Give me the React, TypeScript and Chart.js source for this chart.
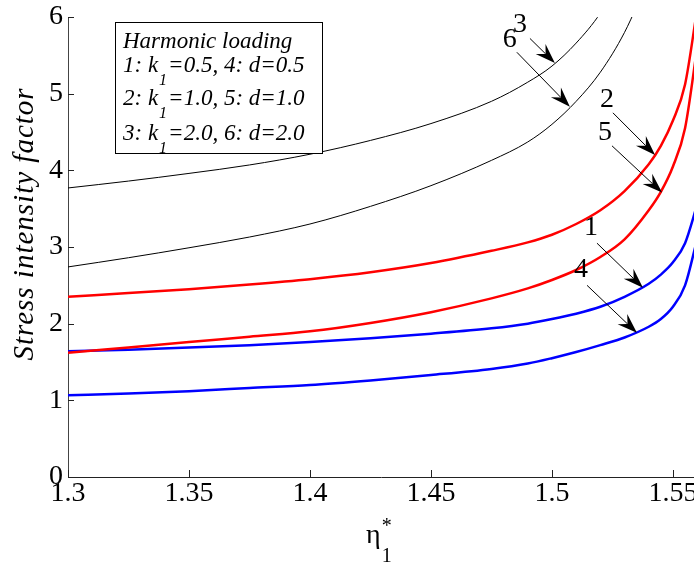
import React, { useEffect, useRef } from 'react';
import { Chart, registerables } from 'chart.js';

Chart.register(...registerables);

// ---- data ----
const etaValues = [1.30, 1.325, 1.35, 1.375, 1.40, 1.425, 1.45, 1.475, 1.49, 1.50, 1.51, 1.52, 1.53, 1.54, 1.545, 1.55, 1.555, 1.56];

// 1: k1 = 0.5 (blue)
const sif1 = [1.64, 1.66, 1.69, 1.72, 1.76, 1.81, 1.87, 1.94, 2.00, 2.06, 2.13, 2.22, 2.35, 2.52, 2.64, 2.80, 3.05, 3.55];
// 2: k1 = 1.0 (red)
const sif2 = [2.35, 2.40, 2.45, 2.51, 2.58, 2.67, 2.79, 2.95, 3.06, 3.16, 3.30, 3.48, 3.73, 4.08, 4.32, 4.65, 5.12, 6.1];
// 3: k1 = 2.0 (black)
const sif3 = [3.77, 3.86, 3.96, 4.07, 4.21, 4.39, 4.61, 4.90, 5.15, 5.36, 5.66, 6.05, 6.6, null, null, null, null, null];
// 4: d = 0.5 (blue)
const sif4 = [1.065, 1.09, 1.12, 1.16, 1.20, 1.26, 1.33, 1.41, 1.48, 1.55, 1.63, 1.72, 1.82, 1.96, 2.06, 2.22, 2.50, 3.1];
// 5: d = 1.0 (red)
const sif5 = [1.62, 1.69, 1.76, 1.83, 1.90, 2.01, 2.15, 2.33, 2.46, 2.57, 2.70, 2.87, 3.10, 3.48, 3.72, 4.05, 4.55, 5.6];
// 6: d = 2.0 (black)
const sif6 = [2.74, 2.86, 2.99, 3.13, 3.30, 3.53, 3.80, 4.13, 4.37, 4.60, 4.90, 5.28, 5.80, 6.5, null, null, null, null];

const xMin = 1.3;
const xMax = 1.5587;
const xStep = 0.05;
const yMin = 0;
const yMax = 6;
const yStep = 1;

// arrow annotations (data coordinates)
const arrowLabels = ['3', '6', '2', '5', '1', '4'];
const arrowLabelEta = [1.4868, 1.4826, 1.5227, 1.5219, 1.5161, 1.5120];
const arrowLabelSif = [5.90, 5.71, 4.92, 4.49, 3.25, 2.70];
const arrowFromEta = [1.4909, 1.4855, 1.5252, 1.5248, 1.5186, 1.5145];
const arrowFromSif = [5.72, 5.54, 4.75, 4.32, 3.05, 2.50];
const arrowToEta = [1.5012, 1.5074, 1.5426, 1.5455, 1.5376, 1.5351];
const arrowToSif = [5.40, 4.83, 4.20, 3.71, 2.47, 1.88];

// legend text box lines: [main, subscript, rest]
const legendTitle = 'Harmonic loading';
const legendLines: [string, string, string][] = [
  ['1: k', '1', '=0.5, 4: d=0.5'],
  ['2: k', '1', '=1.0, 5: d=1.0'],
  ['3: k', '1', '=2.0, 6: d=2.0'],
];

const yTitle = 'Stress intensity factor';
const xTitleMain = 'η';
const xTitleSub = '1';
const xTitleSup = '*';

const SERIF = '"Liberation Serif", serif';

function series(values: (number | null)[]) {
  const out: { x: number; y: number }[] = [];
  etaValues.forEach((x, i) => {
    const v = values[i];
    if (v !== null && v !== undefined) out.push({ x, y: v });
  });
  return out;
}

function drawArrow(ctx: CanvasRenderingContext2D, x0: number, y0: number, x1: number, y1: number) {
  const ang = Math.atan2(y1 - y0, x1 - x0);
  const c = Math.cos(ang);
  const s = Math.sin(ang);
  const L = 20, W = 7, N = 13;
  ctx.beginPath();
  ctx.moveTo(x0, y0);
  ctx.lineTo(x1 - N * c, y1 - N * s);
  ctx.stroke();
  ctx.beginPath();
  ctx.moveTo(x1, y1);
  ctx.lineTo(x1 - L * c - W * s, y1 - L * s + W * c);
  ctx.lineTo(x1 - N * c, y1 - N * s);
  ctx.lineTo(x1 - L * c + W * s, y1 - L * s - W * c);
  ctx.closePath();
  ctx.fill();
}

const decorations = {
  id: 'decorations',
  afterDatasetsDraw(chart: any) {
    const ctx: CanvasRenderingContext2D = chart.ctx;
    const xs = chart.scales.x;
    const ys = chart.scales.y;
    const area = chart.chartArea;
    ctx.save();

    // inward tick marks
    ctx.strokeStyle = '#222';
    ctx.lineWidth = 1;
    xs.ticks.forEach((t: any) => {
      const px = Math.round(xs.getPixelForValue(t.value)) + 0.5;
      ctx.beginPath();
      ctx.moveTo(px, area.bottom);
      ctx.lineTo(px, area.bottom - 7);
      ctx.stroke();
    });
    ys.ticks.forEach((t: any) => {
      const py = Math.round(ys.getPixelForValue(t.value)) + 0.5;
      ctx.beginPath();
      ctx.moveTo(area.left, py);
      ctx.lineTo(area.left + 6, py);
      ctx.stroke();
    });

    // arrows and labels
    ctx.strokeStyle = '#000';
    ctx.fillStyle = '#000';
    ctx.lineWidth = 1;
    arrowLabels.forEach((lab, i) => {
      const x0 = xs.getPixelForValue(arrowFromEta[i]);
      const y0 = ys.getPixelForValue(arrowFromSif[i]);
      const x1 = xs.getPixelForValue(arrowToEta[i]);
      const y1 = ys.getPixelForValue(arrowToSif[i]);
      drawArrow(ctx, x0, y0, x1, y1);
      ctx.font = `28px ${SERIF}`;
      ctx.textAlign = 'center';
      ctx.textBaseline = 'middle';
      ctx.fillText(lab, xs.getPixelForValue(arrowLabelEta[i]), ys.getPixelForValue(arrowLabelSif[i]));
    });

    // legend text box
    const bx = area.left + 47;
    const by = area.top + 5;
    const bw = 207;
    const bh = 131;
    ctx.fillStyle = '#fff';
    ctx.fillRect(bx, by, bw, bh);
    ctx.strokeStyle = '#000';
    ctx.lineWidth = 1;
    ctx.strokeRect(Math.round(bx) + 0.5, Math.round(by) + 0.5, bw, bh);
    ctx.fillStyle = '#000';
    ctx.textAlign = 'left';
    ctx.textBaseline = 'alphabetic';
    const tx = bx + 8;
    ctx.font = `italic 23px ${SERIF}`;
    ctx.fillText(legendTitle, tx, by + 26);
    const baselines = [50, 83, 118];
    legendLines.forEach((ln, i) => {
      const yb = by + baselines[i];
      ctx.font = `italic 23px ${SERIF}`;
      ctx.fillText(ln[0], tx, yb);
      let x = tx + ctx.measureText(ln[0]).width + 1;
      ctx.font = `italic 16px ${SERIF}`;
      ctx.fillText(ln[1], x, yb + 13);
      x += ctx.measureText(ln[1]).width + 1;
      ctx.font = `italic 23px ${SERIF}`;
      ctx.fillText(ln[2], x, yb);
    });

    ctx.restore();
  },
  afterDraw(chart: any) {
    const ctx: CanvasRenderingContext2D = chart.ctx;
    const area = chart.chartArea;
    ctx.save();
    ctx.fillStyle = '#000';
    // y title
    ctx.translate(33, area.top + 207);
    ctx.rotate(-Math.PI / 2);
    ctx.font = `italic 29px ${SERIF}`;
    (ctx as any).letterSpacing = '1px';
    ctx.textAlign = 'center';
    ctx.textBaseline = 'alphabetic';
    ctx.fillText(yTitle, 0, 0);
    ctx.restore();

    // x title  η_1^*
    ctx.save();
    ctx.fillStyle = '#000';
    ctx.textAlign = 'left';
    ctx.textBaseline = 'alphabetic';
    const x0 = area.left + 298;
    const yb = area.bottom + 66;
    ctx.font = `28px ${SERIF}`;
    ctx.fillText(xTitleMain, x0, yb);
    const w = ctx.measureText(xTitleMain).width;
    ctx.font = `20px ${SERIF}`;
    ctx.fillText(xTitleSub, x0 + w + 1, yb + 19);
    ctx.fillText(xTitleSup, x0 + w + 1, yb - 11);
    ctx.restore();
  },
};

export default function App() {
  const ref = useRef<HTMLCanvasElement>(null);

  useEffect(() => {
    const canvas = ref.current;
    if (!canvas) return;
    const fmtX = (v: any) => Number(v).toFixed(2).replace(/0$/, '');
    const chart = new Chart(canvas, {
      type: 'line',
      data: {
        datasets: [
          { label: '3', data: series(sif3), borderColor: '#000', borderWidth: 1 },
          { label: '6', data: series(sif6), borderColor: '#000', borderWidth: 1 },
          { label: '2', data: series(sif2), borderColor: '#ff0000', borderWidth: 2.5 },
          { label: '5', data: series(sif5), borderColor: '#ff0000', borderWidth: 2.5 },
          { label: '1', data: series(sif1), borderColor: '#0000ff', borderWidth: 2.5 },
          { label: '4', data: series(sif4), borderColor: '#0000ff', borderWidth: 2.5 },
        ].map((d) => ({ ...d, pointRadius: 0, fill: false, cubicInterpolationMode: 'monotone' as const })),
      },
      options: {
        responsive: false,
        animation: false,
        layout: { padding: { top: 17, left: 0, right: 0, bottom: 0 } },
        plugins: { legend: { display: false }, tooltip: { enabled: false } },
        scales: {
          x: {
            type: 'linear',
            min: xMin,
            max: xMax,
            grid: { display: false, drawTicks: false },
            border: { display: true, color: '#222', width: 1 },
            ticks: {
              stepSize: xStep,
              includeBounds: false,
              autoSkip: false,
              maxRotation: 0,
              padding: 0,
              color: '#000',
              font: { family: SERIF, size: 28 },
              callback: fmtX,
            },
            afterFit(s: any) {
              s.height = 86;
              s.paddingLeft = 0;
              s.paddingRight = 0;
            },
          },
          y: {
            type: 'linear',
            min: yMin,
            max: yMax,
            grid: { display: false, drawTicks: false },
            border: { display: true, color: '#444', width: 1 },
            ticks: {
              stepSize: yStep,
              padding: 5,
              color: '#000',
              font: { family: SERIF, size: 28 },
            },
            afterFit(s: any) {
              s.width = 68;
              s.paddingTop = 0;
              s.paddingBottom = 0;
            },
          },
        },
      } as any,
      plugins: [decorations],
    });
    return () => chart.destroy();
  }, []);

  return (
    <div style={{ position: 'fixed', left: 0, top: 0, width: 694, height: 563, background: '#fff', overflow: 'hidden' }}>
      <canvas ref={ref} width={694} height={563} style={{ width: 694, height: 563, display: 'block' }} />
    </div>
  );
}
